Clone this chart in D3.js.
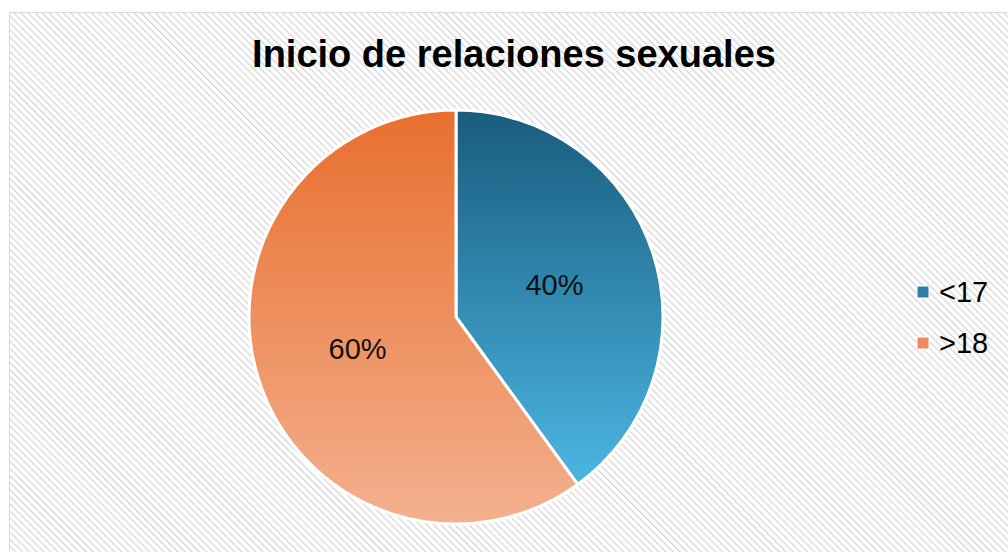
<!DOCTYPE html>
<html>
<head>
<meta charset="utf-8">
<script src="https://cdn.jsdelivr.net/npm/d3@7"></script>
<style>
  body { margin: 0; background: #fff; }
</style>
</head>
<body>
<div id="chart"></div>
<script>
var categories = ["<17", ">18"];
var values = [40, 60];
var labels = ["40%", "60%"];
var title = "Inicio de relaciones sexuales";

var width = 1008, height = 552;
var cx = 456, cy = 317, radius = 207;

var svg = d3.select("#chart").append("svg")
    .attr("width", width)
    .attr("height", height);

var defs = svg.append("defs");

// hatched background
var pat = defs.append("pattern")
    .attr("id", "hatch")
    .attr("patternUnits", "userSpaceOnUse")
    .attr("width", 5)
    .attr("height", 5)
    .attr("patternTransform", "rotate(-45)");
pat.append("rect").attr("width", 5).attr("height", 5).attr("fill", "#ffffff");
pat.append("line")
    .attr("x1", 0).attr("y1", 0).attr("x2", 0).attr("y2", 5)
    .attr("stroke", "#d6d6d6")
    .attr("stroke-width", 2.6);

// slice gradients, top to bottom of the pie (in pie group coords)
var grads = [
  {id: "gBlue", top: "#195c7d", bottom: "#4bb6e3", y2: 0.8},
  {id: "gOrange", top: "#e86f2e", bottom: "#f4b08f", y2: 1}
];
grads.forEach(function(g) {
  var lg = defs.append("linearGradient")
      .attr("id", g.id)
      .attr("gradientUnits", "userSpaceOnUse")
      .attr("x1", 0).attr("y1", -radius)
      .attr("x2", 0).attr("y2", radius * g.y2);
  lg.append("stop").attr("offset", "0%").attr("stop-color", g.top);
  lg.append("stop").attr("offset", "100%").attr("stop-color", g.bottom);
});

var color = d3.scaleOrdinal()
    .domain(categories)
    .range(["url(#gBlue)", "url(#gOrange)"]);
var swatch = d3.scaleOrdinal()
    .domain(categories)
    .range(["#2b7fa8", "#ee8a5a"]);

svg.append("rect")
    .attr("x", 9.5).attr("y", 12.5)
    .attr("width", 1010).attr("height", 560)
    .attr("fill", "url(#hatch)")
    .attr("stroke", "#d9d9d9")
    .attr("stroke-width", 1);

svg.append("text")
    .attr("x", 514)
    .attr("y", 67)
    .attr("text-anchor", "middle")
    .style("font-family", "Liberation Sans, Arial, sans-serif")
    .style("font-weight", "bold")
    .style("font-size", "38px")
    .attr("fill", "#000")
    .text(title);

var data = categories.map(function(c, i) { return {cat: c, value: values[i], label: labels[i]}; });

var pie = d3.pie().sort(null).value(function(d) { return d.value; });
var arc = d3.arc().innerRadius(0).outerRadius(radius);
var labelArc = d3.arc().innerRadius(radius * 0.5).outerRadius(radius * 0.5);

var g = svg.append("g").attr("transform", "translate(" + cx + "," + cy + ")");

g.selectAll("path")
  .data(pie(data))
  .enter().append("path")
    .attr("d", arc)
    .attr("fill", function(d) { return color(d.data.cat); })
    .attr("stroke", "#fff")
    .attr("stroke-width", 3)
    .attr("stroke-linejoin", "round");

g.selectAll("text.lbl")
  .data(pie(data))
  .enter().append("text")
    .attr("class", "lbl")
    .attr("x", function(d) { return labelArc.centroid(d)[0]; })
    .attr("y", function(d) { return labelArc.centroid(d)[1]; })
    .attr("dy", "0.35em")
    .attr("text-anchor", "middle")
    .style("font-family", "Liberation Sans, Arial, sans-serif")
    .style("font-size", "29px")
    .attr("fill", "#111")
    .text(function(d) { return d.data.label; });

// legend
var legend = svg.append("g").attr("transform", "translate(917,292)");
var item = legend.selectAll("g")
  .data(categories)
  .enter().append("g")
    .attr("transform", function(d, i) { return "translate(0," + (i * 51) + ")"; });
item.append("rect")
    .attr("x", 0).attr("y", -6)
    .attr("width", 12).attr("height", 12)
    .attr("fill", function(d) { return swatch(d); })
    .attr("stroke", "#fff")
    .attr("stroke-width", 1);
item.append("text")
    .attr("x", 22)
    .attr("y", 0)
    .attr("dy", "0.36em")
    .style("font-family", "Liberation Sans, Arial, sans-serif")
    .style("font-size", "29px")
    .attr("fill", "#000")
    .text(function(d) { return d; });
</script>
</body>
</html>
